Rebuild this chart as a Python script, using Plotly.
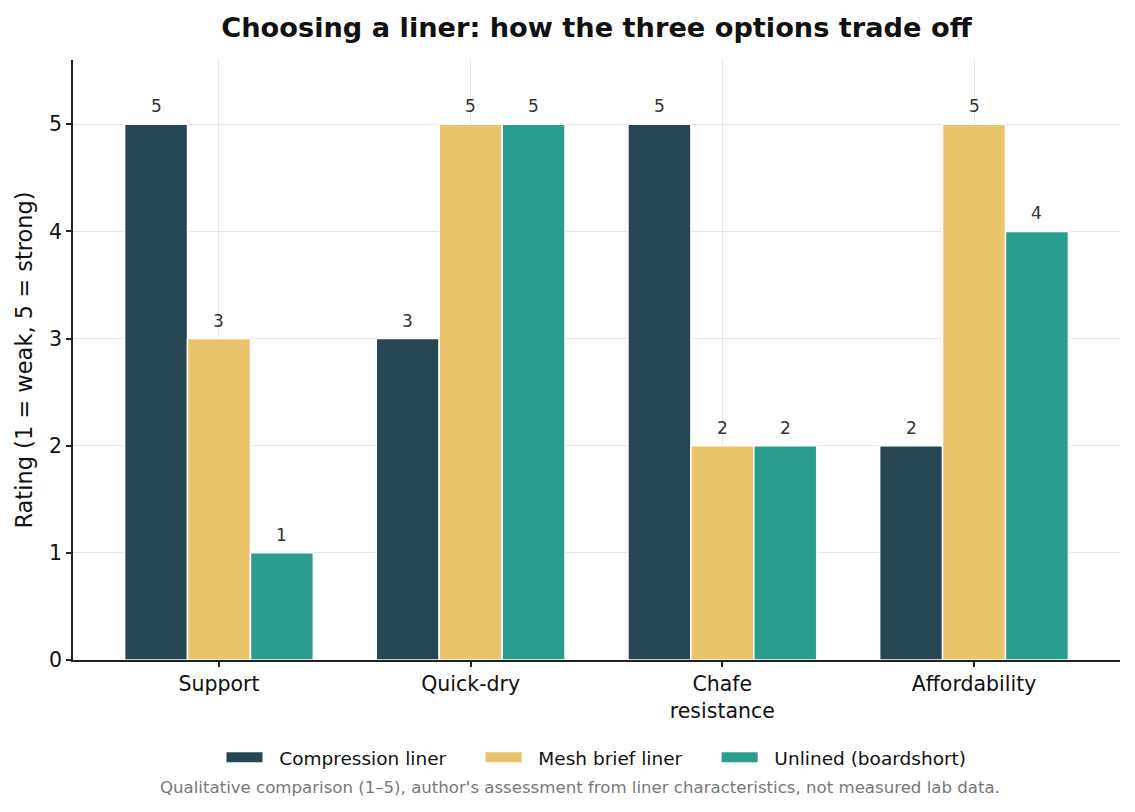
import plotly.graph_objects as go

categories = ["Support", "Quick-dry", "Chafe<br>resistance", "Affordability"]
series_names = ["Compression liner", "Mesh brief liner", "Unlined (boardshort)"]
compression = [5, 3, 5, 2]
mesh_brief = [3, 5, 2, 5]
unlined = [1, 5, 2, 4]
colors = ["#264653", "#E9C46A", "#2A9D8F"]

title = "Choosing a liner: how the three options trade off"
y_title = "Rating (1 = weak, 5 = strong)"
footnote = ("Qualitative comparison (1\u20135), author's assessment from liner "
            "characteristics, not measured lab data.")

FONT = "DejaVu Sans"
NB = "\u00a0"
all_series = [compression, mesh_brief, unlined]

fig = go.Figure()

for k, (name, vals, col) in enumerate(zip(series_names, all_series, colors)):
  fig.add_trace(go.Bar(x=categories, y=vals, name=name, showlegend=False,
                       marker=dict(color=col, line=dict(color="white", width=1.5))))
  # wide legend swatch, like the reference; pad names for spacing
  label = NB * 2 + name + (NB * 5 if k < len(series_names) - 1 else "")
  fig.add_trace(go.Scatter(x=[None], y=[None], mode="lines", name=label,
                           line=dict(color=col, width=11)))

# value labels above each bar
bar_w = 0.25
for i, vals in enumerate(all_series):
  for j, v in enumerate(vals):
    fig.add_annotation(x=j + (i - 1) * bar_w, y=v, text=str(v), showarrow=False,
                       yanchor="bottom", yshift=6,
                       font=dict(family=FONT, size=17, color="#333333"))

fig.add_annotation(text=footnote, xref="paper", yref="paper", x=0.484, y=-0.212,
                   showarrow=False, yanchor="middle",
                   font=dict(family=FONT, size=16.6, color="#777777"))

# page body has an 8px margin, so the figure is a little smaller than the window
fig.update_layout(
  width=1127, height=804,
  margin=dict(l=65, r=15, t=52, b=152),
  paper_bgcolor="white", plot_bgcolor="white",
  font=dict(family=FONT, color="#111111"),
  title=dict(text="<b>" + title + "</b>", x=0.5, xref="paper", y=0.976, yanchor="middle",
             font=dict(family=FONT, size=27.2, color="#111111")),
  barmode="group", bargap=0.25, bargroupgap=0,
  legend=dict(orientation="h", x=0.5, xanchor="center", y=-0.163, yanchor="middle",
              font=dict(family=FONT, size=18.5, color="#111111"), itemwidth=36),
  showlegend=True,
)

fig.update_xaxes(range=[-0.58, 3.58], showline=True, linecolor="#222222", linewidth=1.5,
                 ticks="outside", ticklen=5, tickcolor="#222222", tickwidth=1.5,
                 showgrid=True, gridcolor="#e6e6e6", gridwidth=1,
                 tickfont=dict(family=FONT, size=20.5, color="#111111"))
fig.update_yaxes(range=[0, 5.6], dtick=1, showline=True, linecolor="#222222", linewidth=1.5,
                 ticks="outside", ticklen=5, tickcolor="#222222", tickwidth=1.5,
                 showgrid=True, gridcolor="#e6e6e6", gridwidth=1, zeroline=False,
                 tickfont=dict(family=FONT, size=20.5, color="#111111"),
                 title=dict(text=y_title, standoff=10,
                            font=dict(family=FONT, size=22.5, color="#111111")))

fig.write_html("out.html")
